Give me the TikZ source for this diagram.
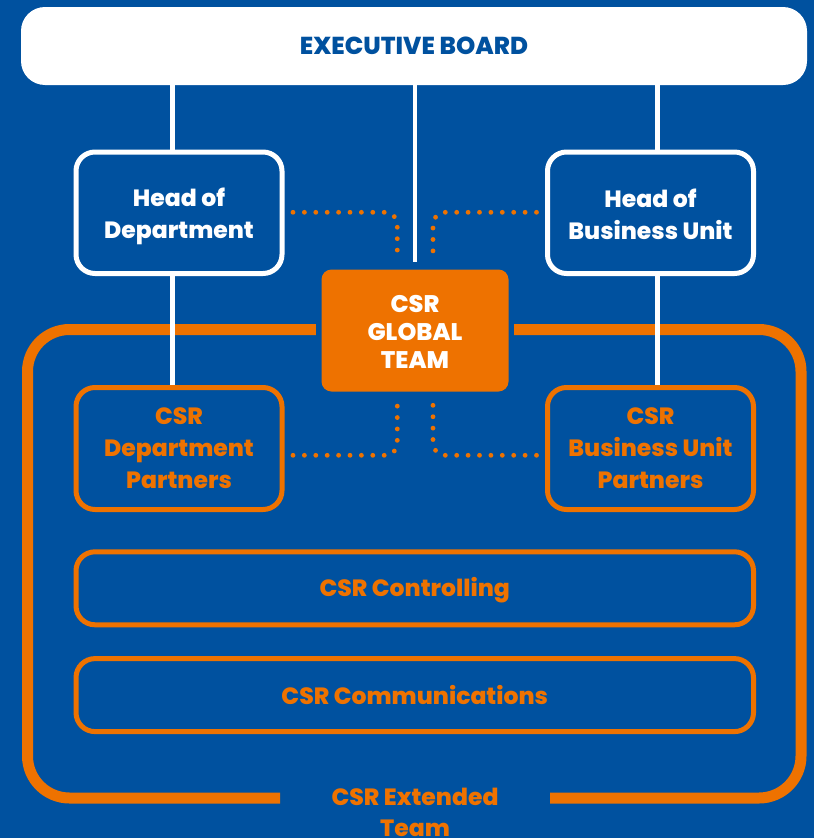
\documentclass[tikz,border=0pt]{standalone}
\usepackage{fontspec}
\setmainfont{Poppins}[BoldFont={Poppins ExtraBold}]
\definecolor{bgblue}{RGB}{0,81,159}
\definecolor{csrorange}{RGB}{238,114,0}
\newcommand\topstrut[1]{\rule{0pt}{#1}}
\begin{document}
\begin{tikzpicture}[x=1pt,y=-1pt,
  every node/.style={font=\bfseries\fontsize{23.5}{32}\selectfont, align=center, inner sep=0pt},
  whitebox/.style={draw=white, line width=5pt, rounded corners=19pt, text=white},
  orangebox/.style={draw=csrorange, line width=5pt, rounded corners=19pt, text=csrorange},
  wline/.style={draw=white, line width=4.7pt},
  dots/.style={draw=csrorange, line width=4.8pt, line cap=round, dash pattern=on 0pt off 11.4pt, rounded corners=12pt},
  bigframe/.style={draw=csrorange, line width=11pt, rounded corners=42pt}
]
\fill[bgblue] (0,0) rectangle (814,838);
\useasboundingbox (0,0) rectangle (814,838);

% nodes
\node[fill=white, rounded corners=24pt, minimum width=786pt, minimum height=78pt, text=bgblue, font=\bfseries\fontsize{24.5}{30}\selectfont] (eb) at (414,46) {EXECUTIVE BOARD};
\node[whitebox, minimum width=206pt, minimum height=121.5pt] (hod) at (179,212.75) {\topstrut{26pt}Head of\\Department};
\node[whitebox, minimum width=206pt, minimum height=121.5pt] (hbu) at (650.5,212.75) {\topstrut{21.5pt}Head of\\Business Unit};
\node[fill=csrorange, rounded corners=10pt, minimum width=187pt, minimum height=122pt, text=white, font=\bfseries\fontsize{24}{28}\selectfont] (cgt) at (415,330.5) {\topstrut{19pt}CSR\\GLOBAL\\TEAM};
\node[orangebox, minimum width=206pt, minimum height=122pt] (cdp) at (179,448.5) {CSR\\Department\\Partners};
\node[orangebox, minimum width=206pt, minimum height=122pt] (cbp) at (650.5,448.5) {CSR\\Business Unit\\Partners};
\node[orangebox, minimum width=677.5pt, minimum height=73pt] (ctl) at (414.75,588.3) {\topstrut{22pt}CSR Controlling};
\node[orangebox, minimum width=677.5pt, minimum height=73pt] (com) at (414.75,695.1) {CSR Communications};
\node[text=csrorange, font=\bfseries\fontsize{23.5}{31}\selectfont] (ext) at (415,812.5) {CSR Extended\\Team};

% big frame with gaps
\draw[bigframe] ([xshift=-5.5pt]cgt.west |- 0,329.5) -- (27.5,329.5) -- (27.5,798) -- ([xshift=-135pt]ext.center |- 0,798);
\draw[bigframe] ([xshift=135pt]ext.center |- 0,798) -- (801,798) -- (801,329.5) -- ([xshift=5.5pt]cgt.east |- 0,329.5);

% white connectors
\coordinate (hodtop) at ([xshift=-6.3pt]hod.north);
\coordinate (hodbot) at ([xshift=-6.3pt]hod.south);
\coordinate (hbutop) at ([xshift=6.8pt]hbu.north);
\coordinate (hbubot) at ([xshift=6.8pt]hbu.south);
\draw[wline] (eb.south -| hodtop) -- (hodtop);
\draw[wline] (eb.south -| hbutop) -- (hbutop);
\draw[wline] (eb.south -| cgt.north) -- ([yshift=7pt]cgt.north);
\draw[wline] (hodbot) -- (cdp.north -| hodbot);
\draw[wline] (hbubot) -- (cbp.north -| hbubot);

% dotted connectors
\coordinate (cgtnw) at ([xshift=-17.7pt,yshift=10.5pt]cgt.north);
\coordinate (cgtne) at ([xshift=18pt,yshift=10.5pt]cgt.north);
\coordinate (cgtsw) at ([xshift=-17.7pt,yshift=-10.5pt]cgt.south);
\coordinate (cgtse) at ([xshift=18pt,yshift=-10.5pt]cgt.south);
\draw[dots] ([xshift=8.5pt]hod.east |- 0,212.3) -| (cgtnw);
\draw[dots] ([xshift=-8.5pt]hbu.west |- 0,212.3) -| (cgtne);
\draw[dots] ([xshift=8.5pt]cdp.east |- 0,455.3) -| (cgtsw);
\draw[dots] ([xshift=-8.5pt]cbp.west |- 0,455.3) -| (cgtse);
\end{tikzpicture}
\end{document}
